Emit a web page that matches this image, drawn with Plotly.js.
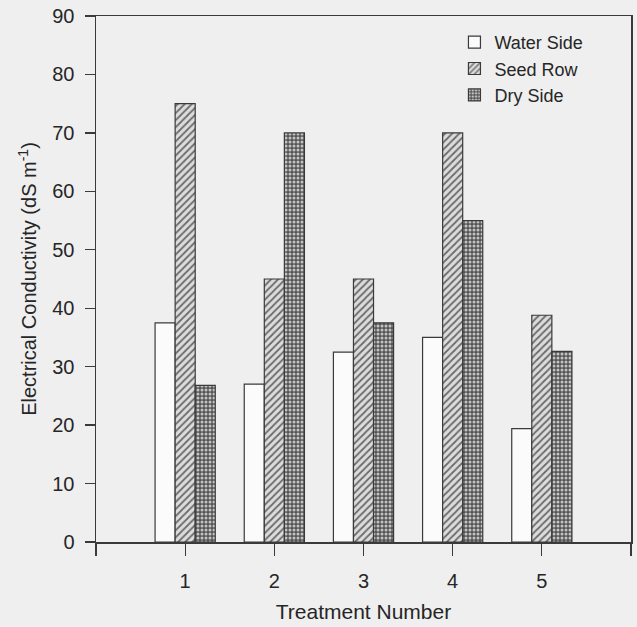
<!DOCTYPE html>
<html>
<head>
<meta charset="utf-8">
<script src="https://cdn.plot.ly/plotly-3.0.1.min.js"></script>
<style>html,body{margin:0;padding:0;background:#efefef;}</style>
</head>
<body>
<div id="chart" style="width:637px;height:627px;"></div>
<script>
const treatments = [1, 2, 3, 4, 5];
const waterSide = [37.5, 27, 32.5, 35, 19.4];
const seedRow = [75, 45, 45, 70, 38.8];
const drySide = [26.8, 70, 37.5, 55, 32.6];
const seriesNames = ["Water Side", "Seed Row", "Dry Side"];
const xTickVals = [0, 1, 2, 3, 4, 5, 6];
const xTickText = ["", "1", "2", "3", "4", "5", ""];

const lineCol = "#3a3a3a";
const txtCol = "#262626";
const traces = [
  {type: "bar", name: seriesNames[0], x: treatments, y: waterSide,
   marker: {color: "#fbfbfb", line: {color: lineCol, width: 1.2}}},
  {type: "bar", name: seriesNames[1], x: treatments, y: seedRow,
   marker: {color: "#d8d8d8", line: {color: lineCol, width: 1.2},
            pattern: {shape: "/", fgcolor: "#6a6a6a", bgcolor: "#dcdcdc", size: 5, solidity: 0.35}}},
  {type: "bar", name: seriesNames[2], x: treatments, y: drySide,
   marker: {color: "#666", line: {color: lineCol, width: 1.2},
            pattern: {shape: ".", fgcolor: "#c4c4c4", bgcolor: "#555555", size: 4, solidity: 0.45}}}
];

const font = "Liberation Sans, Arial, sans-serif";
const layout = {
  width: 637, height: 627,
  margin: {l: 96, r: 6, t: 16, b: 85},
  paper_bgcolor: "#efefef", plot_bgcolor: "#efefef",
  barmode: "group", bargap: 0.325, bargroupgap: 0,
  font: {family: font, color: txtCol, size: 19},
  showlegend: true,
  legend: {x: 0.67, y: 0.985, xanchor: "left", yanchor: "top",
           bgcolor: "rgba(0,0,0,0)", font: {size: 18, color: txtCol},
           tracegroupgap: 0, itemwidth: 30},
  xaxis: {range: [0, 6], tickvals: xTickVals, ticktext: xTickText,
          ticks: "outside", ticklen: 12, tickwidth: 1.3, tickcolor: lineCol,
          showline: true, linecolor: lineCol, linewidth: 1.5, mirror: true,
          showgrid: false, zeroline: false, ticklabelstandoff: 8,
          tickfont: {size: 20, color: txtCol},
          title: {text: "Treatment Number", font: {size: 21, color: txtCol}, standoff: 14}},
  yaxis: {range: [0, 90], dtick: 10, tick0: 0,
          ticks: "outside", ticklen: 10, tickwidth: 1.3, tickcolor: lineCol,
          showline: true, linecolor: lineCol, linewidth: 1.5, mirror: true,
          showgrid: false, zeroline: false, ticklabelstandoff: 6,
          tickfont: {size: 20, color: txtCol},
          title: {text: "Electrical Conductivity (dS m<sup>-1</sup>)", font: {size: 20, color: txtCol}, standoff: 10}}
};
Plotly.newPlot("chart", traces, layout, {displayModeBar: false, staticPlot: true});
</script>
</body>
</html>
